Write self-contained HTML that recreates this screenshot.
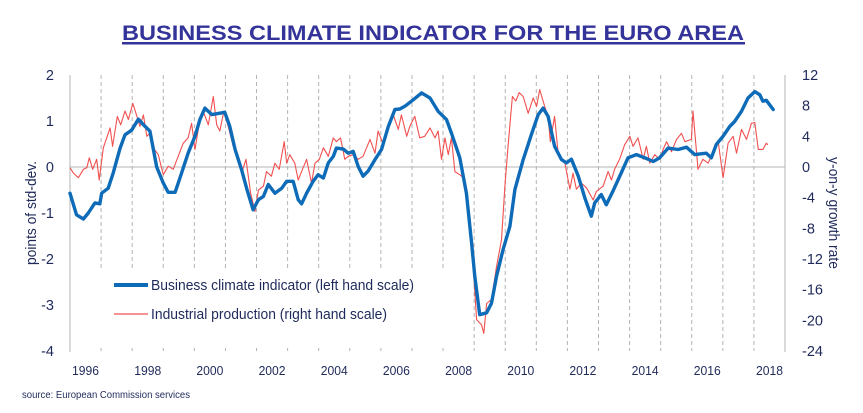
<!DOCTYPE html>
<html><head><meta charset="utf-8"><style>
html,body{margin:0;padding:0;background:#fff;}
svg{display:block;font-family:"Liberation Sans Narrow","Liberation Sans",sans-serif;}
</style></head><body>
<svg id="chart" width="863" height="413" viewBox="0 0 863 413">
<text x="433" y="40" text-anchor="middle" font-family="Liberation Sans, sans-serif" font-weight="bold" font-size="21" fill="#333399" textLength="622" lengthAdjust="spacingAndGlyphs">BUSINESS CLIMATE INDICATOR FOR THE EURO AREA</text>
<rect x="122" y="42" width="623" height="2.5" fill="#333399"/>
<g id="grid"></g>
<g id="axes"></g>
<rect x="100" y="268" width="345" height="79" fill="#fff"/>
<g id="series"></g>
<g>
<line x1="114" y1="285" x2="148" y2="285" stroke="#0e6bb8" stroke-width="4"/>
<text x="151" y="290" font-size="15" fill="#1f2a5a" textLength="263" lengthAdjust="spacingAndGlyphs">Business climate indicator (left hand scale)</text>
<line x1="114" y1="314" x2="148" y2="314" stroke="#f05050" stroke-width="1.2"/>
<text x="151" y="319" font-size="15" fill="#1f2a5a" textLength="236" lengthAdjust="spacingAndGlyphs">Industrial production (right hand scale)</text>
</g>
<text transform="translate(36,213) rotate(-90)" text-anchor="middle" font-size="14.5" fill="#1f2a5a" textLength="104" lengthAdjust="spacingAndGlyphs">points of std-dev.</text>
<text transform="translate(829,213) rotate(90)" text-anchor="middle" font-size="14.5" fill="#1f2a5a" textLength="112" lengthAdjust="spacingAndGlyphs">y-on-y growth rate</text>
<text x="22" y="398" font-size="10" fill="#1f2a5a" textLength="168" lengthAdjust="spacingAndGlyphs">source: European Commission services</text>
</svg>
<script>
const leftTicks=[2,1,0,-1,-2,-3,-4];
const rightTicks=[12,8,4,0,-4,-8,-12,-16,-20,-24];
const yearLabels=[1996,1998,2000,2002,2004,2006,2008,2010,2012,2014,2016,2018];
const bciDates=[0,.21,.43,.59,.80,.96,1.02,1.23,1.39,1.61,1.77,1.98,2.20,2.36,2.57,2.79,3.00,3.16,3.38,3.59,3.80,4.02,4.18,4.34,4.56,4.82,4.98,5.14,5.31,5.52,5.68,5.89,6.06,6.22,6.38,6.59,6.81,6.97,7.18,7.34,7.45,7.61,7.82,7.98,8.15,8.31,8.47,8.57,8.79,8.95,9.11,9.27,9.43,9.59,9.81,10.02,10.24,10.45,10.61,10.77,11.04,11.31,11.58,11.84,12.11,12.27,12.54,12.75,12.92,13.02,13.18,13.40,13.56,13.72,13.93,14.15,14.31,14.58,14.84,15.06,15.22,15.38,15.59,15.81,15.97,16.13,16.35,16.56,16.77,16.88,17.09,17.25,17.46,17.73,17.95,18.22,18.49,18.76,18.97,19.24,19.56,19.83,20.10,20.47,20.63,20.79,21.01,21.22,21.38,21.60,21.81,22.03,22.19,22.29,22.40,22.62];
const bciValues=[-0.57,-1.04,-1.13,-1.0,-0.78,-0.8,-0.57,-0.46,-0.13,0.41,0.7,0.8,1.04,0.92,0.78,0,-0.35,-0.55,-0.55,-0.13,0.3,0.67,1.03,1.28,1.14,1.17,1.19,0.88,0.38,-0.06,-0.46,-0.93,-0.71,-0.64,-0.38,-0.57,-0.46,-0.31,-0.31,-0.71,-0.8,-0.57,-0.31,-0.17,-0.24,0.09,0.23,0.41,0.39,0.3,0.34,0.01,-0.2,-0.09,0.16,0.38,0.88,1.25,1.26,1.32,1.46,1.61,1.5,1.21,1.03,0.74,0.2,-0.57,-1.65,-2.38,-3.21,-3.17,-2.96,-2.38,-1.8,-1.29,-0.49,0.16,0.7,1.14,1.28,1.1,0.45,0.16,0.09,0.17,-0.2,-0.67,-1.07,-0.78,-0.6,-0.82,-0.53,-0.13,0.2,0.27,0.2,0.12,0.2,0.41,0.38,0.43,0.27,0.3,0.2,0.49,0.67,0.88,0.99,1.21,1.5,1.64,1.57,1.43,1.45,1.25];
const ipDates=[0,.11,.27,.43,.54,.62,.73,.86,.94,1.07,1.18,1.29,1.37,1.52,1.63,1.77,1.88,2.02,2.14,2.25,2.36,2.47,2.57,2.68,2.84,3.00,3.16,3.32,3.48,3.64,3.80,3.91,4.02,4.18,4.31,4.45,4.61,4.72,4.82,4.95,5.09,5.25,5.38,5.52,5.66,5.81,5.95,6.06,6.22,6.32,6.48,6.59,6.73,6.89,6.97,7.07,7.23,7.34,7.45,7.61,7.77,7.88,8.02,8.15,8.31,8.47,8.57,8.70,8.84,8.95,9.11,9.27,9.43,9.65,9.81,9.91,10.08,10.24,10.40,10.56,10.66,10.83,10.93,11.09,11.25,11.41,11.58,11.74,11.84,11.95,12.06,12.17,12.27,12.38,12.54,12.65,12.75,12.86,12.97,13.08,13.24,13.31,13.40,13.56,13.72,13.88,13.99,14.10,14.23,14.34,14.45,14.58,14.74,14.90,15.01,15.11,15.27,15.38,15.45,15.59,15.70,15.92,16.08,16.18,16.29,16.45,16.61,16.83,16.93,17.15,17.31,17.42,17.52,17.68,17.84,18.01,18.11,18.27,18.44,18.54,18.65,18.81,18.97,19.08,19.19,19.35,19.51,19.67,19.78,19.99,20.04,20.20,20.36,20.53,20.69,20.85,21.01,21.17,21.33,21.44,21.60,21.76,21.92,22.03,22.14,22.29,22.40,22.45];
const ipValues=[-0.1,-0.8,-1.4,-0.3,-0.1,1.2,-0.3,1.0,-1.7,2.5,3.8,5.1,2.7,6.6,5.5,7.3,6.2,8.3,6.8,5.3,6.8,4.0,4.4,2.5,1.6,-1.0,0.1,-0.3,1.4,3.1,3.8,5.7,2.3,6.2,7.0,5.5,9.2,5.5,4.7,7.3,5.3,2.7,1.8,-0.8,1.0,-3.4,-5.8,-3.0,-2.5,-0.6,-1.2,0.5,-0.3,3.3,0.5,1.6,0.5,-1.7,-0.6,1.0,-2.1,0.5,1.0,2.5,1.4,3.8,3.3,3.8,1.0,1.4,1.6,1.0,1.4,3.6,1.8,4.7,2.9,4.9,6.8,4.9,6.8,4.0,5.3,6.6,3.8,4.0,5.1,3.8,4.7,1.0,3.8,1.6,3.8,-0.6,-1.0,-1.4,-3.4,-7.7,-13.0,-19.9,-20.6,-21.7,-17.8,-17.3,-13.0,-9.5,-2.5,3.1,9.2,8.6,9.7,9.2,7.0,9.0,7.9,10.1,7.9,6.6,3.3,6.6,1.8,0.5,-2.9,-0.8,-2.9,-2.1,-2.7,-4.3,-3.2,-2.5,-0.6,-1.7,-0.3,1.0,2.9,4.0,2.7,3.8,1.0,2.7,0.5,1.6,1.0,2.3,3.3,2.0,3.6,4.4,3.3,3.6,7.3,-0.3,1.0,0.5,2.0,3.3,-1.4,3.1,4.0,1.8,4.9,3.6,5.7,5.8,2.3,2.3,3.1,2.9];

const NS='http://www.w3.org/2000/svg';
const X0=70,X1=785,startYear=1996,nYears=23;
const xScale=d=>X0+(d/nYears)*(X1-X0);
const yLeft=v=>167-v*46;
const yRight=v=>167-v*(46/6);
function mk(tag,attrs,parent){const e=document.createElementNS(NS,tag);for(const k in attrs)e.setAttribute(k,attrs[k]);parent.appendChild(e);return e;}
const grid=document.getElementById('grid'),axes=document.getElementById('axes'),series=document.getElementById('series');
for(let i=1;i<nYears;i++){
  const l=mk('line',{x1:xScale(i),x2:xScale(i),y1:75,y2:351,stroke:'#b4b4b4','stroke-width':1,'stroke-dasharray':'4,3'},grid);
  
  
}
const zl=mk('line',{x1:X0,x2:X1,y1:yLeft(0),y2:yLeft(0),stroke:'#b4b4b4','stroke-width':1},axes);


const la=mk('line',{x1:X0,x2:X0,y1:75,y2:352,stroke:'#b4b4b4','stroke-width':1},axes);


const ra=mk('line',{x1:X1,x2:X1,y1:75,y2:352,stroke:'#b4b4b4','stroke-width':1},axes);


leftTicks.forEach(v=>{
  const t=mk('text',{x:54,y:yLeft(v)+5,'text-anchor':'end','font-size':14.5,fill:'#1f2a5a'},axes);
  t.textContent=v;
  
  
});
rightTicks.forEach(v=>{
  const t=mk('text',{x:802,y:yRight(v)+5,'text-anchor':'start','font-size':14.5,fill:'#1f2a5a'},axes);
  t.textContent=v;
  
  
});
yearLabels.forEach(y=>{
  const t=mk('text',{x:xScale(y-startYear+0.5),y:375,'text-anchor':'middle','font-size':13,fill:'#1f2a5a',textLength:27,lengthAdjust:'spacingAndGlyphs'},axes);
  t.textContent=y;
  
  
});
const ipPts=ipDates.map((d,i)=>xScale(d).toFixed(1)+','+yRight(ipValues[i]).toFixed(1)).join(' ');
const ip=mk('polyline',{points:ipPts,fill:'none',stroke:'#f05050','stroke-width':1.1,'stroke-linejoin':'round'},series);


const bciPts=bciDates.map((d,i)=>xScale(d).toFixed(1)+','+yLeft(bciValues[i]).toFixed(1)).join(' ');
const bci=mk('polyline',{points:bciPts,fill:'none',stroke:'#0e6bb8','stroke-width':3.4,'stroke-linejoin':'round','stroke-linecap':'round'},series);


</script>
</body></html>
